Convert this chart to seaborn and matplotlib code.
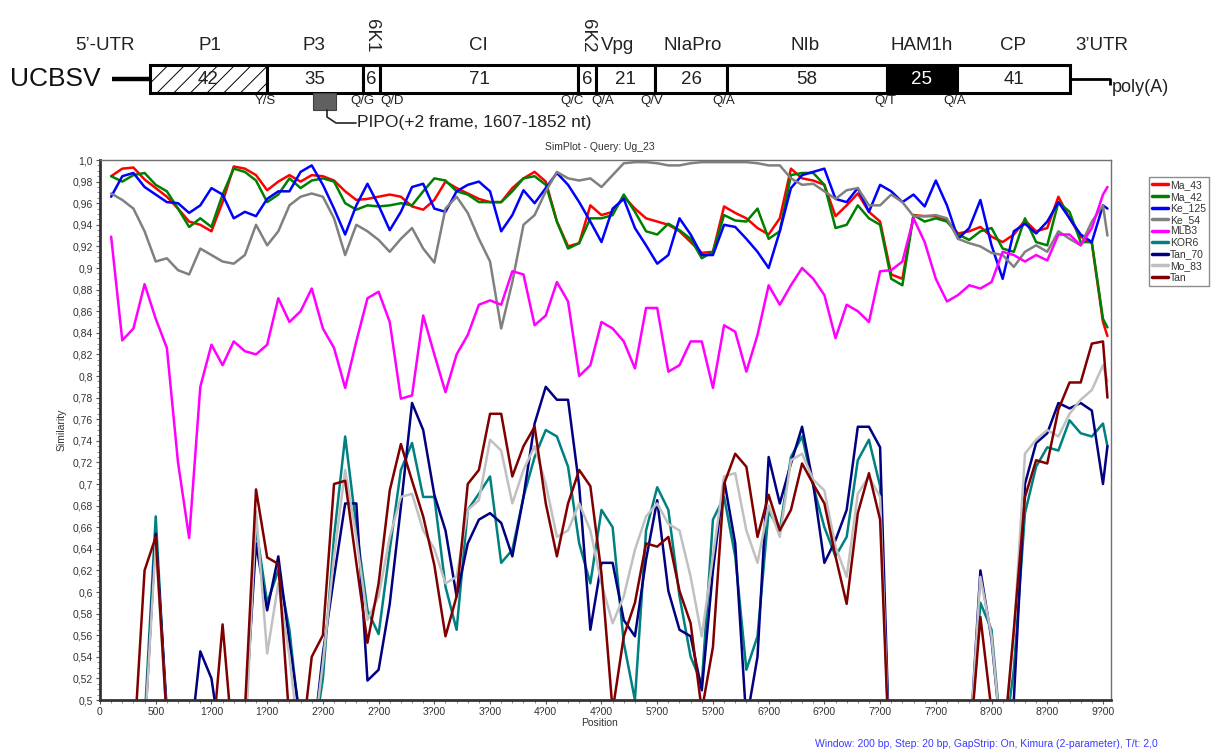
import numpy as np
import pandas as pd
import matplotlib.pyplot as plt
import seaborn as sns
from matplotlib.patches import Rectangle
from matplotlib.lines import Line2D
from matplotlib.ticker import FixedLocator, MultipleLocator

# window midpoints (bp)
position = list(range(100, 9001, 100)) + [9040]

ma_43 = [0.985, 0.992, 0.993, 0.982, 0.974, 0.966, 0.955, 0.943, 0.94, 0.934,
         0.961, 0.994, 0.992, 0.986, 0.972, 0.98, 0.986, 0.98, 0.986, 0.985,
         0.981, 0.971, 0.963, 0.964, 0.966, 0.968, 0.966, 0.957, 0.954, 0.963,
         0.98, 0.974, 0.969, 0.964, 0.961, 0.961, 0.974, 0.983, 0.989, 0.98,
         0.943, 0.92, 0.923, 0.958, 0.949, 0.952, 0.966, 0.955, 0.946, 0.943,
         0.94, 0.934, 0.924, 0.914, 0.915, 0.957, 0.951, 0.946, 0.937, 0.931,
         0.946, 0.992, 0.983, 0.981, 0.977, 0.948, 0.958, 0.969, 0.952, 0.943,
         0.894, 0.89, 0.949, 0.948, 0.948, 0.944, 0.932, 0.934, 0.938, 0.929,
         0.924, 0.931, 0.944, 0.934, 0.937, 0.966, 0.946, 0.929, 0.923, 0.85,
         0.837]
ma_42 = [0.985, 0.98, 0.986, 0.988, 0.977, 0.971, 0.955, 0.938, 0.946, 0.938,
         0.968, 0.992, 0.989, 0.981, 0.961, 0.968, 0.983, 0.974, 0.981, 0.983,
         0.98, 0.96, 0.954, 0.958, 0.957, 0.958, 0.96, 0.958, 0.971, 0.983,
         0.981, 0.971, 0.968, 0.961, 0.961, 0.961, 0.971, 0.983, 0.985, 0.977,
         0.943, 0.918, 0.923, 0.946, 0.946, 0.949, 0.968, 0.952, 0.934, 0.931,
         0.941, 0.935, 0.927, 0.909, 0.915, 0.949, 0.944, 0.943, 0.955, 0.927,
         0.934, 0.986, 0.988, 0.988, 0.977, 0.937, 0.94, 0.958, 0.946, 0.94,
         0.89, 0.884, 0.949, 0.943, 0.946, 0.943, 0.931, 0.926, 0.934, 0.937,
         0.918, 0.915, 0.946, 0.924, 0.921, 0.961, 0.952, 0.924, 0.924, 0.853,
         0.845]
ke_125 = [0.966, 0.985, 0.988, 0.975, 0.968, 0.961, 0.96, 0.951, 0.958, 0.974,
          0.968, 0.946, 0.952, 0.948, 0.964, 0.971, 0.971, 0.989, 0.995, 0.977,
          0.955, 0.931, 0.958, 0.978, 0.958, 0.935, 0.952, 0.975, 0.978, 0.955,
          0.952, 0.971, 0.977, 0.98, 0.971, 0.934, 0.949, 0.972, 0.96, 0.974,
          0.988, 0.977, 0.961, 0.943, 0.924, 0.955, 0.964, 0.937, 0.921, 0.904,
          0.912, 0.946, 0.931, 0.912, 0.912, 0.94, 0.938, 0.927, 0.915, 0.90,
          0.934, 0.974, 0.986, 0.989, 0.992, 0.964, 0.961, 0.974, 0.952, 0.977,
          0.971, 0.961, 0.968, 0.957, 0.981, 0.958, 0.927, 0.937, 0.963, 0.921,
          0.89, 0.934, 0.941, 0.932, 0.943, 0.961, 0.946, 0.931, 0.924, 0.958,
          0.955]
ke_54 = [0.969, 0.963, 0.955, 0.934, 0.906, 0.909, 0.898, 0.894, 0.918, 0.912,
         0.906, 0.904, 0.912, 0.94, 0.921, 0.934, 0.958, 0.966, 0.969, 0.966,
         0.946, 0.912, 0.94, 0.934, 0.926, 0.915, 0.927, 0.937, 0.918, 0.905,
         0.955, 0.966, 0.951, 0.927, 0.906, 0.844, 0.887, 0.94, 0.949, 0.971,
         0.989, 0.983, 0.981, 0.983, 0.975, 0.986, 0.997, 0.998, 0.998, 0.997,
         0.995, 0.995, 0.997, 0.998, 0.998, 0.998, 0.998, 0.998, 0.997, 0.995,
         0.995, 0.983, 0.977, 0.978, 0.971, 0.964, 0.972, 0.974, 0.958, 0.958,
         0.968, 0.961, 0.948, 0.948, 0.949, 0.946, 0.927, 0.923, 0.92, 0.914,
         0.912, 0.901, 0.915, 0.921, 0.915, 0.934, 0.927, 0.921, 0.943, 0.958,
         0.93]
mlb3 = [0.929, 0.833, 0.844, 0.885, 0.853, 0.826, 0.72, 0.65, 0.79, 0.829,
        0.81, 0.832, 0.823, 0.82, 0.829, 0.872, 0.85, 0.86, 0.881, 0.844,
        0.826, 0.789, 0.832, 0.872, 0.878, 0.85, 0.779, 0.782, 0.856, 0.82,
        0.785, 0.82, 0.838, 0.866, 0.87, 0.866, 0.897, 0.894, 0.847, 0.856,
        0.887, 0.869, 0.80, 0.81, 0.85, 0.844, 0.832, 0.807, 0.863, 0.863,
        0.804, 0.81, 0.832, 0.832, 0.789, 0.847, 0.841, 0.804, 0.838, 0.884,
        0.866, 0.884, 0.90, 0.89, 0.875, 0.835, 0.866, 0.86, 0.85, 0.897,
        0.898, 0.906, 0.946, 0.924, 0.89, 0.869, 0.875, 0.884, 0.881, 0.887,
        0.915, 0.912, 0.906, 0.912, 0.907, 0.931, 0.931, 0.921, 0.937, 0.968,
        0.975]
kor6 = [0.45, 0.45, 0.45, 0.48, 0.67, 0.48, 0.45, 0.45, 0.45, 0.45,
        0.49, 0.45, 0.47, 0.66, 0.59, 0.62, 0.565, 0.47, 0.45, 0.52,
        0.651, 0.744, 0.66, 0.583, 0.561, 0.639, 0.713, 0.738, 0.688, 0.688,
        0.605, 0.565, 0.676, 0.691, 0.707, 0.627, 0.639, 0.688, 0.725, 0.75,
        0.744, 0.716, 0.645, 0.608, 0.676, 0.66, 0.553, 0.50, 0.657, 0.697,
        0.676, 0.596, 0.54, 0.515, 0.667, 0.688, 0.633, 0.528, 0.559, 0.675,
        0.657, 0.725, 0.744, 0.698, 0.66, 0.633, 0.651, 0.722, 0.741, 0.698,
        0.4, 0.4, 0.4, 0.4, 0.4, 0.4, 0.4, 0.45, 0.59, 0.565,
        0.45, 0.528, 0.673, 0.716, 0.734, 0.731, 0.759, 0.747, 0.744, 0.756,
        0.735]
tan_70 = [0.45, 0.45, 0.45, 0.47, 0.654, 0.49, 0.45, 0.45, 0.545, 0.52,
          0.45, 0.45, 0.48, 0.645, 0.583, 0.633, 0.553, 0.48, 0.45, 0.543,
          0.614, 0.682, 0.682, 0.518, 0.528, 0.589, 0.679, 0.775, 0.75, 0.69,
          0.657, 0.596, 0.645, 0.667, 0.673, 0.664, 0.633, 0.688, 0.756, 0.79,
          0.778, 0.778, 0.698, 0.565, 0.627, 0.627, 0.574, 0.559, 0.63, 0.685,
          0.601, 0.565, 0.559, 0.509, 0.62, 0.704, 0.645, 0.48, 0.54, 0.725,
          0.682, 0.719, 0.753, 0.70, 0.627, 0.648, 0.676, 0.753, 0.753, 0.734,
          0.4, 0.4, 0.4, 0.4, 0.4, 0.4, 0.4, 0.45, 0.62, 0.556,
          0.45, 0.50, 0.70, 0.738, 0.747, 0.775, 0.77, 0.775, 0.768, 0.70,
          0.735]
mo_83 = [0.45, 0.45, 0.45, 0.47, 0.645, 0.48, 0.45, 0.45, 0.45, 0.45,
         0.47, 0.45, 0.45, 0.675, 0.543, 0.608, 0.54, 0.45, 0.45, 0.534,
         0.633, 0.713, 0.651, 0.574, 0.596, 0.651, 0.688, 0.691, 0.657, 0.64,
         0.608, 0.614, 0.676, 0.685, 0.741, 0.731, 0.682, 0.713, 0.735, 0.70,
         0.651, 0.657, 0.682, 0.657, 0.608, 0.571, 0.596, 0.639, 0.67, 0.682,
         0.663, 0.657, 0.614, 0.559, 0.633, 0.707, 0.71, 0.657, 0.627, 0.68,
         0.651, 0.722, 0.728, 0.704, 0.694, 0.642, 0.614, 0.691, 0.707, 0.688,
         0.4, 0.4, 0.4, 0.4, 0.4, 0.4, 0.4, 0.45, 0.614, 0.559,
         0.45, 0.56, 0.728, 0.741, 0.75, 0.744, 0.765, 0.778, 0.787, 0.81,
         0.795]
tan = [0.45, 0.45, 0.45, 0.62, 0.651, 0.48, 0.45, 0.45, 0.45, 0.45,
       0.57, 0.45, 0.49, 0.695, 0.632, 0.626, 0.48, 0.45, 0.54, 0.56,
       0.70, 0.703, 0.627, 0.553, 0.608, 0.694, 0.737, 0.703, 0.67, 0.625,
       0.559, 0.596, 0.70, 0.713, 0.765, 0.765, 0.707, 0.735, 0.753, 0.682,
       0.633, 0.682, 0.713, 0.698, 0.617, 0.49, 0.559, 0.59, 0.645, 0.642,
       0.651, 0.601, 0.571, 0.49, 0.549, 0.70, 0.728, 0.716, 0.651, 0.69,
       0.657, 0.676, 0.719, 0.70, 0.682, 0.633, 0.589, 0.673, 0.71, 0.667,
       0.4, 0.4, 0.4, 0.4, 0.4, 0.4, 0.4, 0.45, 0.577, 0.49,
       0.45, 0.565, 0.688, 0.722, 0.719, 0.769, 0.794, 0.794, 0.83, 0.832,
       0.78]

names = ['Ma_43', 'Ma_42', 'Ke_125', 'Ke_54', 'MLB3', 'KOR6', 'Tan_70', 'Mo_83', 'Tan']
values = [ma_43, ma_42, ke_125, ke_54, mlb3, kor6, tan_70, mo_83, tan]
colors = ['#ff0000', '#008000', '#0000ff', '#808080', '#ff00ff',
          '#008080', '#000080', '#c0c0c0', '#800000']
palette = dict(zip(names, colors))

df = pd.concat([pd.DataFrame({'Position': position, 'Similarity': v, 'Sequence': n})
                for n, v in zip(names, values)], ignore_index=True)

# genome map (schematic)
genes = ['P1', 'P3', '6K1', 'CI', '6K2', 'Vpg', 'NIaPro', 'NIb', 'HAM1h', 'CP']
kda = ['42', '35', '6', '71', '6', '21', '26', '58', '25', '41']
bounds = [150, 267, 363, 380, 578, 596, 655, 727, 887, 957, 1070]
gene_lx = [210, 314, 372, 478, 587, 618, 693, 805, 922, 1013]
sites = ['Y/S', 'Q/G', 'Q/D', 'Q/C', 'Q/A', 'Q/V', 'Q/A', 'Q/T', 'Q/A']
site_x = [265, 362, 392, 572, 603, 652, 724, 885, 955]

sns.set_style('white')
plt.rcParams['font.family'] = ['Liberation Sans', 'DejaVu Sans']
plt.rcParams['hatch.color'] = '#666666'
plt.rcParams['hatch.linewidth'] = 0.7

W, H = 1214, 751
fig = plt.figure(figsize=(W / 100, H / 100), dpi=100)

# ---- SimPlot ----
ax = fig.add_axes([100 / W, 51 / H, 1011 / W, 540 / H])
sns.lineplot(data=df, x='Position', y='Similarity', hue='Sequence', hue_order=names,
             palette=palette, estimator=None, sort=False, lw=1.8, legend=False, ax=ax)
ax.set_xlim(0, 9072)
ax.set_ylim(0.5, 1.0)
xt = list(range(0, 9001, 500))
ax.xaxis.set_major_locator(FixedLocator(xt))
ax.set_xticklabels(['0', '500'] + [f'{t // 1000}?00' for t in xt[2:]])
yt = np.round(np.arange(0.5, 1.0001, 0.02), 2)
ax.yaxis.set_major_locator(FixedLocator(yt))
ax.set_yticklabels(['1,0' if t == 1.0 else ('%g' % t).replace('.', ',') for t in yt])
ax.xaxis.set_minor_locator(MultipleLocator(100))
ax.yaxis.set_minor_locator(MultipleLocator(0.005))
ax.tick_params(which='major', length=3, width=0.8, labelsize=7.5, labelcolor='#333333',
               color='#555555', left=True, bottom=True, pad=2)
ax.tick_params(which='minor', length=2, width=0.6, color='#777777', left=True, bottom=True)
ax.set_xlabel('')
ax.set_ylabel('')
for s in ['left', 'bottom']:
    ax.spines[s].set_linewidth(2)
    ax.spines[s].set_color('#333333')
for s in ['top', 'right']:
    ax.spines[s].set_linewidth(1)
    ax.spines[s].set_color('#707070')

fig.text(600 / W, 1 - 147 / H, 'SimPlot - Query: Ug_23', ha='center', va='center',
         fontsize=7.5, color='#333333')
fig.text(62 / W, 1 - 430 / H, 'Similarity', rotation=90, ha='center', va='center',
         fontsize=7.5, color='#333333')
fig.text(600 / W, 1 - 723 / H, 'Position', ha='center', va='center',
         fontsize=7.5, color='#333333')
fig.text(1158 / W, 1 - 744 / H,
         'Window: 200 bp, Step: 20 bp, GapStrip: On, Kimura (2-parameter), T/t: 2,0',
         ha='right', va='center', fontsize=7.5, color='#3a3aff')

handles = [Line2D([0], [0], color=c, lw=2.5) for c in colors]
leg = fig.legend(handles, names, loc='upper left', bbox_to_anchor=(1149 / W, 1 - 177 / H),
                 fontsize=7.5, handlelength=1.5, handletextpad=0.2, labelspacing=0.15,
                 borderpad=0.3, borderaxespad=0, frameon=True, fancybox=False)
leg.get_frame().set_edgecolor('#707070')
leg.get_frame().set_linewidth(1)
for t in leg.get_texts():
    t.set_color('#333333')

# ---- genome map ----
mp = fig.add_axes([0, 1 - 140 / H, 1, 140 / H])
mp.set_xlim(0, W)
mp.set_ylim(140, 0)
mp.axis('off')

top, bot = 65, 93
mid = (top + bot) / 2
mp.plot([112, 150], [mid, mid], color='black', lw=3.2, solid_capstyle='butt')
mp.plot([1070, 1110, 1110], [mid, mid, mid + 6], color='black', lw=2, solid_capstyle='butt')
for i, g in enumerate(genes):
    x0, x1 = bounds[i], bounds[i + 1]
    face = 'black' if g == 'HAM1h' else 'white'
    hatch = '//' if g == 'P1' else None
    mp.add_patch(Rectangle((x0, top), x1 - x0, bot - top, facecolor=face, edgecolor='black',
                           lw=2.2, hatch=hatch))
    mp.text((x0 + x1) / 2, mid + 1, kda[i], ha='center', va='center', fontsize=13.5,
            color='white' if g == 'HAM1h' else '#222222')
    if g.startswith('6K'):
        mp.text(gene_lx[i], 36, g, rotation=-90, ha='center', va='center', fontsize=13.5,
                color='#222222')
    else:
        mp.text(gene_lx[i], 45, g, ha='center', va='center', fontsize=13.5, color='#222222')
mp.text(105, 45, '5’-UTR', ha='center', va='center', fontsize=13.5, color='#222222')
mp.text(1102, 45, '3’UTR', ha='center', va='center', fontsize=13.5, color='#222222')
mp.text(10, mid, 'UCBSV', ha='left', va='center', fontsize=19, color='#111111')
mp.text(1112, mid + 8, 'poly(A)', ha='left', va='center', fontsize=13, color='#222222')
for lab, x in zip(sites, site_x):
    mp.text(x, 101, lab, ha='center', va='center', fontsize=9.5, color='#222222')

mp.add_patch(Rectangle((313, bot), 23, 17, facecolor='#606060', edgecolor='#404040', lw=0.8))
mp.plot([327, 327, 336, 356], [bot + 17, 117, 123, 123], color='#222222', lw=1.2)
mp.text(357, 122, 'PIPO(+2 frame, 1607-1852 nt)', ha='left', va='center', fontsize=12.5,
        color='#222222')

fig.savefig('out.png', dpi=100)
